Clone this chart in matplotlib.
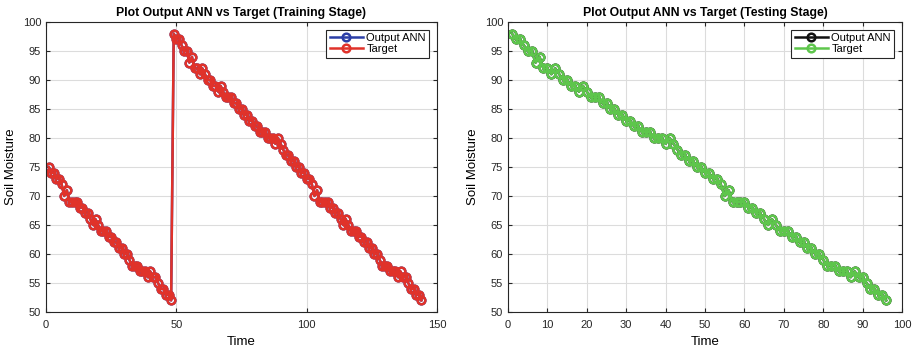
import matplotlib
matplotlib.use("Agg")
import matplotlib.pyplot as plt
import numpy as np

plt.rcParams['font.family'] = ['Liberation Sans', 'DejaVu Sans']

# soil moisture values
train_target = [
    75, 74, 74, 73, 73, 72, 70, 71, 69, 69, 69, 69, 68, 68, 67, 67,
    66, 65, 66, 65, 64, 64, 64, 63, 63, 62, 62, 61, 61, 60, 60, 59,
    58, 58, 58, 57, 57, 57, 56, 57, 56, 56, 55, 54, 54, 53, 53, 52,
    98, 97, 97, 96, 95, 95, 93, 94, 92, 92, 91, 92, 91, 90, 90, 89,
    89, 88, 89, 88, 87, 87, 87, 86, 86, 85, 85, 84, 84, 83, 83, 82,
    82, 81, 81, 81, 80, 80, 80, 79, 80, 79, 78, 77, 77, 76, 76, 75,
    75, 74, 74, 73, 73, 72, 70, 71, 69, 69, 69, 69, 68, 68, 67, 67,
    66, 65, 66, 65, 64, 64, 64, 63, 63, 62, 62, 61, 61, 60, 60, 59,
    58, 58, 58, 57, 57, 57, 56, 57, 56, 56, 55, 54, 54, 53, 53, 52,
]
train_output = list(train_target)

test_target = [
    98, 97, 97, 96, 95, 95, 93, 94, 92, 92, 91, 92, 91, 90, 90, 89,
    89, 88, 89, 88, 87, 87, 87, 86, 86, 85, 85, 84, 84, 83, 83, 82,
    82, 81, 81, 81, 80, 80, 80, 79, 80, 79, 78, 77, 77, 76, 76, 75,
    75, 74, 74, 73, 73, 72, 70, 71, 69, 69, 69, 69, 68, 68, 67, 67,
    66, 65, 66, 65, 64, 64, 64, 63, 63, 62, 62, 61, 61, 60, 60, 59,
    58, 58, 58, 57, 57, 57, 56, 57, 56, 56, 55, 54, 54, 53, 53, 52,
]
test_output = list(test_target)

panels = [
    ("Plot Output ANN vs Target (Training Stage)", train_output, train_target,
     '#2b3ea6', '#e0322a', [0, 150], [0, 50, 100, 150]),
    ("Plot Output ANN vs Target (Testing Stage)", test_output, test_target,
     '#111111', '#5ec64c', [0, 100], list(range(0, 101, 10))),
]

fig = plt.figure(figsize=(9.15, 3.52), dpi=100)
rects = [[46/915, 1 - 312/352, 391/915, 290/352],
         [508/915, 1 - 312/352, 394/915, 290/352]]

for i in range(len(panels)):
    title, out, tgt, c_out, c_tgt, xlim, xticks = panels[i]
    ax = fig.add_axes(rects[i])
    t = np.arange(1, len(tgt) + 1)
    ax.plot(t, out, '-o', color=c_out, mfc='none', ms=5.5, mew=1.8, lw=1.8,
            label='Output ANN')
    ax.plot(t, tgt, '-o', color=c_tgt, mfc='none', ms=5.5, mew=1.8, lw=1.8,
            label='Target')
    ax.set_xlim(xlim)
    ax.set_ylim(50, 100)
    ax.set_xticks(xticks)
    ax.set_yticks(range(50, 101, 5))
    ax.grid(True, color='#dcdcdc', lw=0.8)
    ax.set_axisbelow(True)
    ax.tick_params(direction='in', top=True, right=True, labelsize=8,
                   colors='#262626', length=3)
    ax.tick_params(axis='x', pad=6)
    for s in ax.spines.values():
        s.set_color('#262626')
        s.set_linewidth(0.8)
    ax.set_title(title, fontsize=8.8, fontweight='bold', pad=4)
    ax.set_xlabel('Time', fontsize=9.5, labelpad=4)
    ax.set_ylabel('Soil Moisture', fontsize=9.5, labelpad=4)
    leg = ax.legend(loc='upper right', fontsize=8, fancybox=False,
                    framealpha=1, edgecolor='#262626', borderpad=0.3,
                    labelspacing=0.1, handlelength=3, handletextpad=0.3,
                    borderaxespad=0.7)
    leg.get_frame().set_linewidth(0.8)

fig.savefig('out.png', dpi=100)
